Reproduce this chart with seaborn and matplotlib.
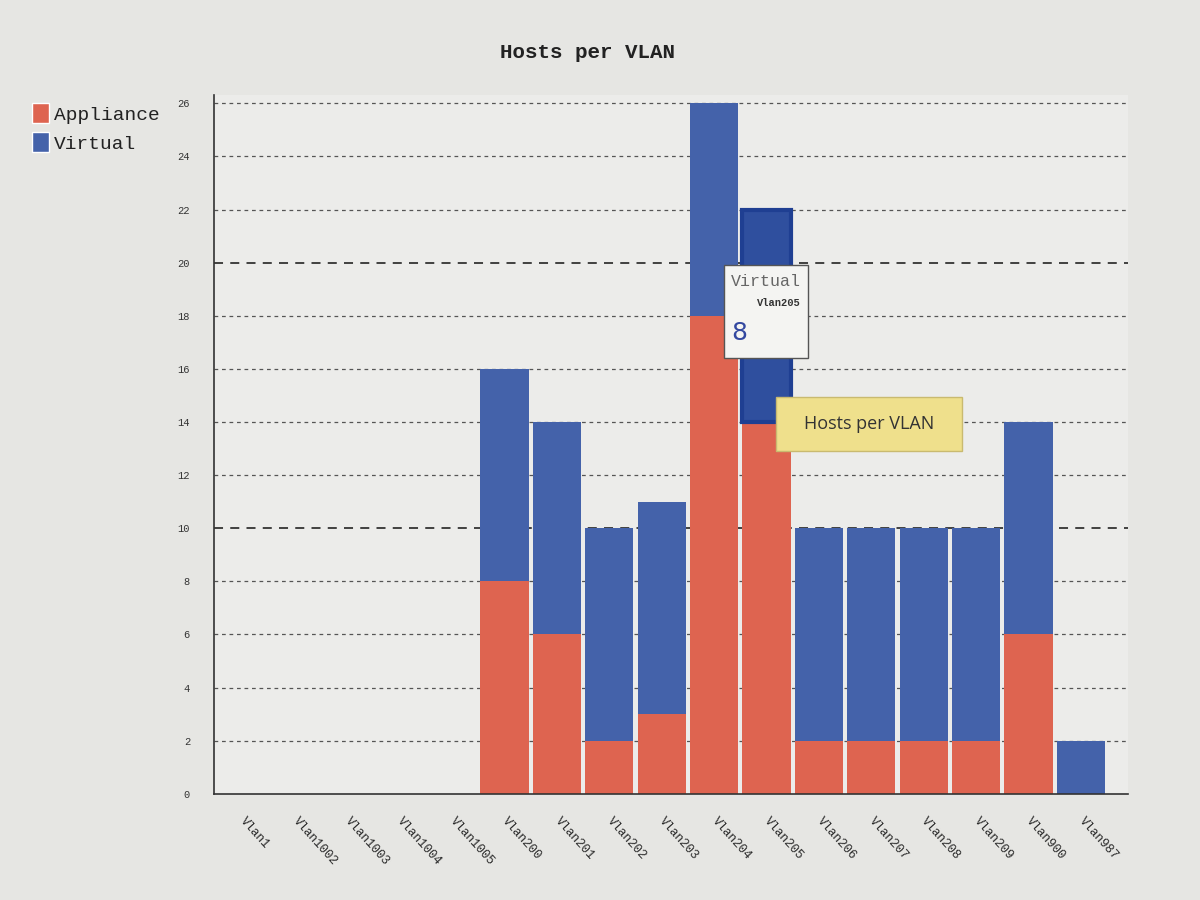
"""
VLAN별 호스트 수 (Appliance / Virtual) 누적 막대그래프
"""
import pandas as pd
import seaborn as sns
import matplotlib
matplotlib.use('Agg')
import matplotlib.pyplot as plt
from matplotlib.patches import Rectangle, Patch

vlans = ['Vlan1', 'Vlan1002', 'Vlan1003', 'Vlan1004', 'Vlan1005', 'Vlan200',
         'Vlan201', 'Vlan202', 'Vlan203', 'Vlan204', 'Vlan205', 'Vlan206',
         'Vlan207', 'Vlan208', 'Vlan209', 'Vlan900', 'Vlan987']
appliance = [0, 0, 0, 0, 0, 8, 6, 2, 3, 18, 14, 2, 2, 2, 2, 6, 0]
virtual = [0, 0, 0, 0, 0, 8, 8, 8, 8, 8, 8, 8, 8, 8, 8, 8, 2]
y_ticks = list(range(0, 27, 2))

RED = '#de6450'
BLUE = '#4462aa'
MONO = ['Liberation Mono', 'DejaVu Sans Mono']

sns.set_style('white')
plt.rcParams['font.family'] = MONO

df = pd.DataFrame({'vlan': vlans, 'Appliance': appliance, 'Virtual': virtual})
df['total'] = df['Appliance'] + df['Virtual']

fig = plt.figure(figsize=(12, 9), dpi=100, facecolor='#e6e6e3')
ax = fig.add_axes([0.178, 0.118, 0.762, 0.776])
ax.set_facecolor('#ececea')

# 전체(Virtual) 막대를 먼저 그리고 그 위에 Appliance를 덮어 누적 형태로
sns.barplot(data=df, x='vlan', y='total', color=BLUE, saturation=1,
            width=0.92, linewidth=0, ax=ax, zorder=3)
virt_bars = list(ax.patches)
sns.barplot(data=df, x='vlan', y='Appliance', color=RED, saturation=1,
            width=0.92, linewidth=0, ax=ax, zorder=3)

# 마우스 오버된 Vlan205 Virtual 막대 강조
i205 = vlans.index('Vlan205')
hb = virt_bars[i205]
hb.set_y(appliance[i205])
hb.set_height(virtual[i205])
hb.set_facecolor('#2f4f9e')
hb.set_edgecolor('#1f3f92')
hb.set_linewidth(3)
hb.set_zorder(4)

ax.set_xlim(-0.55, 16.9)
ax.set_ylim(0, 26.3)
ax.set_xlabel('')
ax.set_ylabel('')
ax.set_yticks(y_ticks)
ax.set_yticklabels([str(t) for t in y_ticks])
ax.set_xticks(range(len(vlans)))
ax.set_xticklabels(vlans)
ax.tick_params(axis='x', length=0, pad=18, labelsize=9, labelcolor='#2a2a2a')
ax.tick_params(axis='y', length=6, width=1, color='#333', direction='inout',
               pad=14, labelsize=7.5, labelcolor='#333')
for lab in ax.get_xticklabels():
    lab.set_rotation(-48)
    lab.set_rotation_mode('anchor')
    lab.set_ha('left')
    lab.set_va('center')

for t in y_ticks:
    if t == 0:
        continue
    major = t in (10, 20)
    ax.axhline(t, color='#333' if major else '#555', lw=1.3 if major else 0.9,
               ls=(0, (5, 4)) if major else (0, (3, 3)), zorder=1)

for s in ['top', 'right']:
    ax.spines[s].set_visible(False)
for s in ['left', 'bottom']:
    ax.spines[s].set_color('#333')
    ax.spines[s].set_linewidth(1.2)
    ax.spines[s].set_zorder(5)

fig.text(0.49, 0.942, 'Hosts per VLAN', ha='center', va='center',
         fontsize=15, fontweight='bold', color='#222')

handles = [Patch(facecolor=RED, label='Appliance'),
           Patch(facecolor=BLUE, label='Virtual')]
fig.legend(handles=handles, loc='upper left', bbox_to_anchor=(0.012, 0.905),
           frameon=False, fontsize=14, handlelength=0.9, handleheight=1.2,
           handletextpad=0.25, labelspacing=0.45, labelcolor='#222')

# 툴팁 (원본 화면 캡처 재현)
fig.patches.append(Rectangle((724 / 1200, 1 - 358 / 900), 84 / 1200, 93 / 900,
                             transform=fig.transFigure, facecolor='#f4f4f2',
                             edgecolor='#555', lw=1, zorder=10))
fig.text(731 / 1200, 1 - 281 / 900, 'Virtual', fontsize=12, color='#666',
         va='center', zorder=11)
fig.text(801 / 1200, 1 - 303 / 900, 'Vlan205', fontsize=7.5, color='#333',
         fontweight='bold', ha='right', va='center', zorder=11)
fig.text(731 / 1200, 1 - 333 / 900, '8', fontsize=18, color='#3348a0',
         family=['DejaVu Sans'], va='center', zorder=11)

fig.patches.append(Rectangle((776 / 1200, 1 - 451 / 900), 186 / 1200, 54 / 900,
                             transform=fig.transFigure, facecolor='#efe08c',
                             edgecolor='#c9ba70', lw=1, zorder=10))
fig.text(869 / 1200, 1 - 424 / 900, 'Hosts per VLAN', fontsize=13, color='#333',
         family=['Open Sans', 'DejaVu Sans'], ha='center', va='center', zorder=11)

fig.savefig('out.png', dpi=100, facecolor=fig.get_facecolor())
